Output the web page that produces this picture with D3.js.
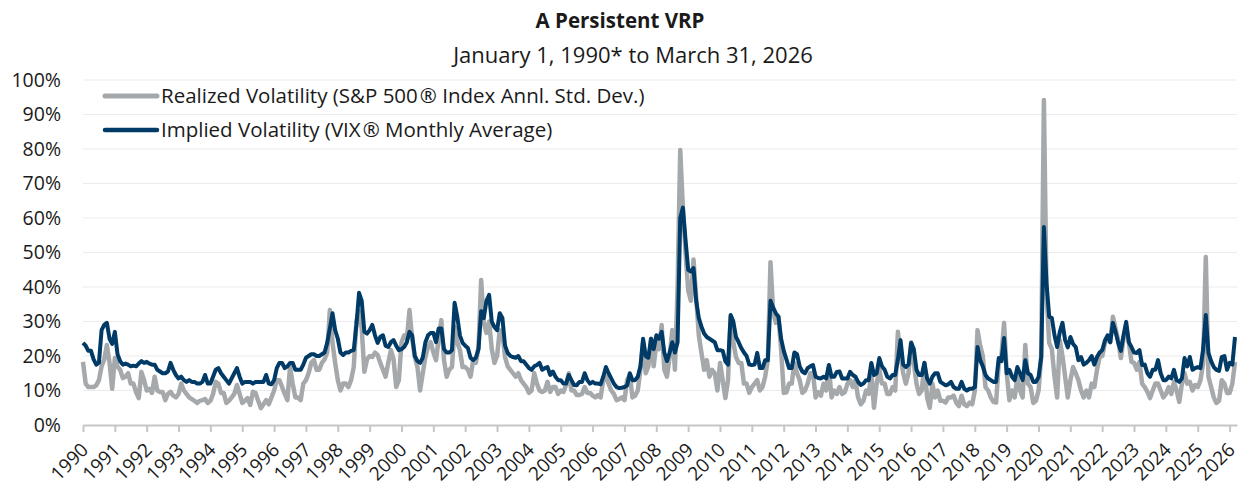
<!DOCTYPE html>
<html><head><meta charset="utf-8">
<script src="https://cdn.jsdelivr.net/npm/d3@7"></script>
<style>
body{margin:0;background:#fff;}
svg{display:block;font-family:"Open Sans","Noto Sans",sans-serif;}
</style>
</head><body>
<svg id="chart" width="1239" height="489"></svg>
<script>
const titleText = "A Persistent VRP";
const subtitleText = "January 1, 1990* to March 31, 2026";
const seriesNames = ["Realized Volatility (S&P 500\u200a\u00ae Index Annl. Std. Dev.)", "Implied Volatility (VIX\u200a\u00ae Monthly Average)"];
const yearLabels = d3.range(1990, 2027).map(String);
const yTickValues = [0,10,20,30,40,50,60,70,80,90,100];

// Monthly values, Jan 1990 .. Mar 2026 (percent)
const realized = [
18.3,12,11,11,11,11.5,13,17,19,23.2,18,10.5,
19.4,17,16,13.6,14,15,12,12,9.5,7.8,15.4,13,
10,10.5,9.3,14,10,9.6,9.6,7.2,9,9.6,8.5,8,
9,12,10,9,8,7.5,7,6.4,7,7.2,7.5,6.4,
7,9,12.5,12,9.3,9.3,6.4,7,8,9,11.6,9,
6.4,7,7.8,5.8,9.6,9.3,7,4.9,6,7.2,6,8,
10,13,13,11,9,7.2,16.8,12,8,8,7.2,12,
13,15,18,18.8,16,16,18,19,21,33.3,23.8,18,
13,10,12,12,11,13,16.8,30,33,28,15.4,19,
20,19.7,21,20.3,18,16,14,18,21.7,19,11,13,
24,26,25,33.3,25,19.7,16.8,10,15,19.7,22.6,24,
21,18.8,25,30.4,18.8,14,16,16.8,28.4,24,21.7,16.8,
16.8,16,14,18.8,18,22.6,42,29.6,26.7,30,22,18,
20,27.5,26.7,19.7,17,16,15,14,15,13,12,11,
9.3,10,15,12,10,9.6,10,12.5,9.6,11,11,9,
10,9.6,11.6,15,10,10,8.7,8.7,9,11,9.3,9.3,
8.5,8,8.7,8,13,14,12,10,9,7.2,7.5,8,
7.2,13,14.5,8,8.5,10,16,24,15,17,25,17,
24,22,29,16,14,19.7,27.5,16,40,79.7,63,50,
39,36,48,37,26,20.9,16,18.8,14,16,15,10,
18,13,7.8,13,31.4,24,19.7,18,18,12,12,9.3,
11,12,13,10,11,14,18.8,47.2,33,29.6,31.4,22,
9.3,9.5,12,12,18,15,13,9.3,10,12,15,15,
8,9.5,8.5,12,10,16.8,8,10,9,11,9,9.5,
12,13,11,13,8,6,7,10,9,15,5,12,
16,12,12,9,9,11,10,27,20,15,12,15,
24,18,12,9,10,18,8,5,12,8,10,7,
7,6.5,8,8,8.5,6.5,5.5,8.5,6,5.5,6.5,6,
10,27.5,23,20,11,10,8,6.7,6.5,18,20,29.6,
15,7.2,10,8,14,10,8,23.2,12,11,6.4,7,
10,20,94.2,38,23.8,22,14,8,24.6,20,14,8,
13,16.8,15,13,10,8,10,8,12,11,16,19.7,
20,23.8,25,24,31.4,28,24.6,19.4,25,28.4,24,18.3,
18,16,18.3,12,11,9.6,7.8,10,12,12,10,8,
9,11,9,12.5,10,6.7,12,15,12,12.5,10,11.6,
11,13,18,48.7,14,11,8,6.4,7,13,12,9.3,
9.3,12,18.3
];
const implied = [
23.8,23,21.5,21.5,19,17.5,18,27.5,29,29.6,25,23.5,
27,20.5,18.5,17.5,17.8,17.5,17,17.2,17,17.8,18.5,18,
18.3,17.8,17.5,17.5,16,15.5,15,15,15.5,18,16,14.5,
13.5,14,13,12.5,13,12.5,12.5,12,12,12.5,14.5,12,
12,14,16,16.5,15,14,13,12,13.5,15,16.5,14,
12,12.5,12.5,12.5,12,12.5,12.5,12.5,12.5,14.5,12,11.8,
13,16.5,18,18,16.5,17,18,18,16,16,16,17.5,
19.5,20,20.5,20.5,20,20,20.5,21,23.8,28,32.4,27.5,
25,21,20.3,21,21,21.5,21.7,29,38.3,36,27,26.5,
27.5,29,26,23.8,25.5,26,23,22.6,24,24.6,23,21.7,
22,22.6,24,27,26,20,18.5,18,19.5,24,26,26.7,
26.7,24,28,28,22,21,21,21.7,35.4,31.4,26,23.8,
23,22.3,19.5,18.8,19.5,22,33,31,36,37.7,30,28.4,
27.5,32.4,31,23,20.9,20,19.7,19.5,20,18.5,18.5,17.5,
16.5,16,17,17.4,18,16,16.5,16.8,14.5,15.5,14,13,
13,12,12,14.5,13,11.6,11.5,12.5,12.5,15,13,12,
12.5,12,12,11.8,14,16.8,15,13.5,12,11,10.7,10.8,
11,11.5,15,13,13,14,17,25,20,19.5,25,22,
26,25,27,21,18.5,21,24,21,24,60,63,53.6,
45,44.5,45.5,36,31,28.5,26.5,25.5,25,24.5,24,21.7,
21.7,21.5,18.5,17.5,31.9,30,25.5,24,22.3,21,20,17.5,
17.4,17.5,20.9,16.5,16.5,18.8,18.8,36,34,32.4,31.4,25,
21.5,19,16.5,16.5,21,20.5,17,15.5,15,16.5,17,17.4,
14,13.6,13.5,14,13.5,17.4,14,14,15.4,15.5,13.5,13.5,
13.5,15.4,14.5,14,12.5,11.6,12,13,13,18,14.5,15,
19.4,17,16,14,13.5,14.5,14.5,19,24.6,17.5,16.8,17.5,
23.8,22,16,14.5,14.5,18,13.5,12,14,15,15,12.5,
12,11.5,11.8,12.5,11,10.5,10.5,12.5,10.5,10,10.5,10.5,
11,22.6,18.8,17,14.5,13.5,13,12.5,12.5,19.4,18.5,25.2,
15,16,14,13,16.8,15,13,18.8,15,14.5,12.5,12.5,
13.9,19.7,57.4,41,31.4,31,26,22.6,27,29.6,24.6,22.5,
25.5,23.5,22.6,18.8,19.7,17.5,18,18.8,20,17.5,19.7,21,
21.7,24.5,26,24,29.6,27,23.8,21.5,26,29.9,24,22.6,
21,20.9,21.7,17.4,17.5,15,14,16,16,18.8,15,13,
13,14,13.5,16,13,12.5,13.5,19.4,17,19.7,16,16.5,
16.8,16.5,22,31.9,20.9,18.5,16.8,16,15.7,19.7,20,16,
18,17.5,25.5
];

const colors = {realized: "#a5a9ac", implied: "#003a66", grid: "#ebebeb", axis: "#c6c6c6", text: "#1a1a1a"};

const svg = d3.select("#chart");
const nMonths = realized.length;
const left = 83;

const x = d3.scaleLinear().domain([0, nMonths - 1]).range([left, 1235]);
const y = d3.scaleLinear().domain([0, 100]).range([425, 80]);

// Title
svg.append("text").attr("x", 620).attr("y", 28).attr("text-anchor", "middle")
  .attr("font-size", 20.5).attr("font-weight", 700).attr("fill", colors.text).text(titleText);
svg.append("text").attr("x", 633).attr("y", 63).attr("text-anchor", "middle")
  .attr("font-size", 22).attr("fill", colors.text).text(subtitleText);

// Grid
svg.append("g").selectAll("line").data(yTickValues.filter(d => d > 0)).join("line")
  .attr("x1", left).attr("x2", 1237)
  .attr("y1", d => y(d)).attr("y2", d => y(d))
  .attr("stroke", colors.grid).attr("stroke-width", 1);

// Y axis labels
const yAxis = d3.axisLeft(y).tickValues(yTickValues).tickFormat(d => d + "%").tickSize(0).tickPadding(0);
const gy = svg.append("g").attr("transform", "translate(61,0)").call(yAxis);
gy.select(".domain").remove();
gy.selectAll("text").attr("font-size", 19.5).attr("fill", colors.text).attr("font-family", '"Open Sans",sans-serif');

// X axis
const xAxisScale = d3.scaleLinear().domain([0, nMonths - 1 + 0.8]).range([left, 1237]);
const xAxis = d3.axisBottom(xAxisScale).tickValues(yearLabels.map((d, i) => i * 12))
  .tickFormat((d, i) => yearLabels[i]).tickSize(7).tickSizeOuter(0);
const gx = svg.append("g").attr("transform", "translate(0,425)").call(xAxis);
gx.select(".domain").attr("stroke", colors.axis).attr("stroke-width", 2);
gx.selectAll(".tick line").attr("stroke", colors.axis).attr("stroke-width", 2);
gx.selectAll("text").attr("font-size", 19).attr("fill", colors.text)
  .attr("font-family", '"Open Sans",sans-serif')
  .attr("text-anchor", "end").attr("dy", 0).attr("y", 0)
  .attr("transform", "translate(6,26) rotate(-45)");

// Lines
const line = d3.line().x((d, i) => x(i)).y(d => y(d)).curve(d3.curveLinear);
svg.append("path").datum(realized).attr("d", line).attr("fill", "none")
  .attr("stroke", colors.realized).attr("stroke-width", 4.5).attr("stroke-linejoin", "round");
svg.append("path").datum(implied).attr("d", line).attr("fill", "none")
  .attr("stroke", colors.implied).attr("stroke-width", 4).attr("stroke-linejoin", "round");

// Legend
const legend = svg.append("g");
const legendItems = [{name: seriesNames[0], color: colors.realized, w: 5, y: 96},
                     {name: seriesNames[1], color: colors.implied, w: 4.5, y: 130}];
legendItems.forEach(it => {
  legend.append("line").attr("x1", 105).attr("x2", 157).attr("y1", it.y).attr("y2", it.y)
    .attr("stroke", it.color).attr("stroke-width", it.w).attr("stroke-linecap", "round");
  legend.append("text").attr("x", 161).attr("y", it.y).attr("dy", "0.35em")
    .attr("font-size", 20.5).attr("fill", colors.text).text(it.name);
});
</script>
</body></html>
